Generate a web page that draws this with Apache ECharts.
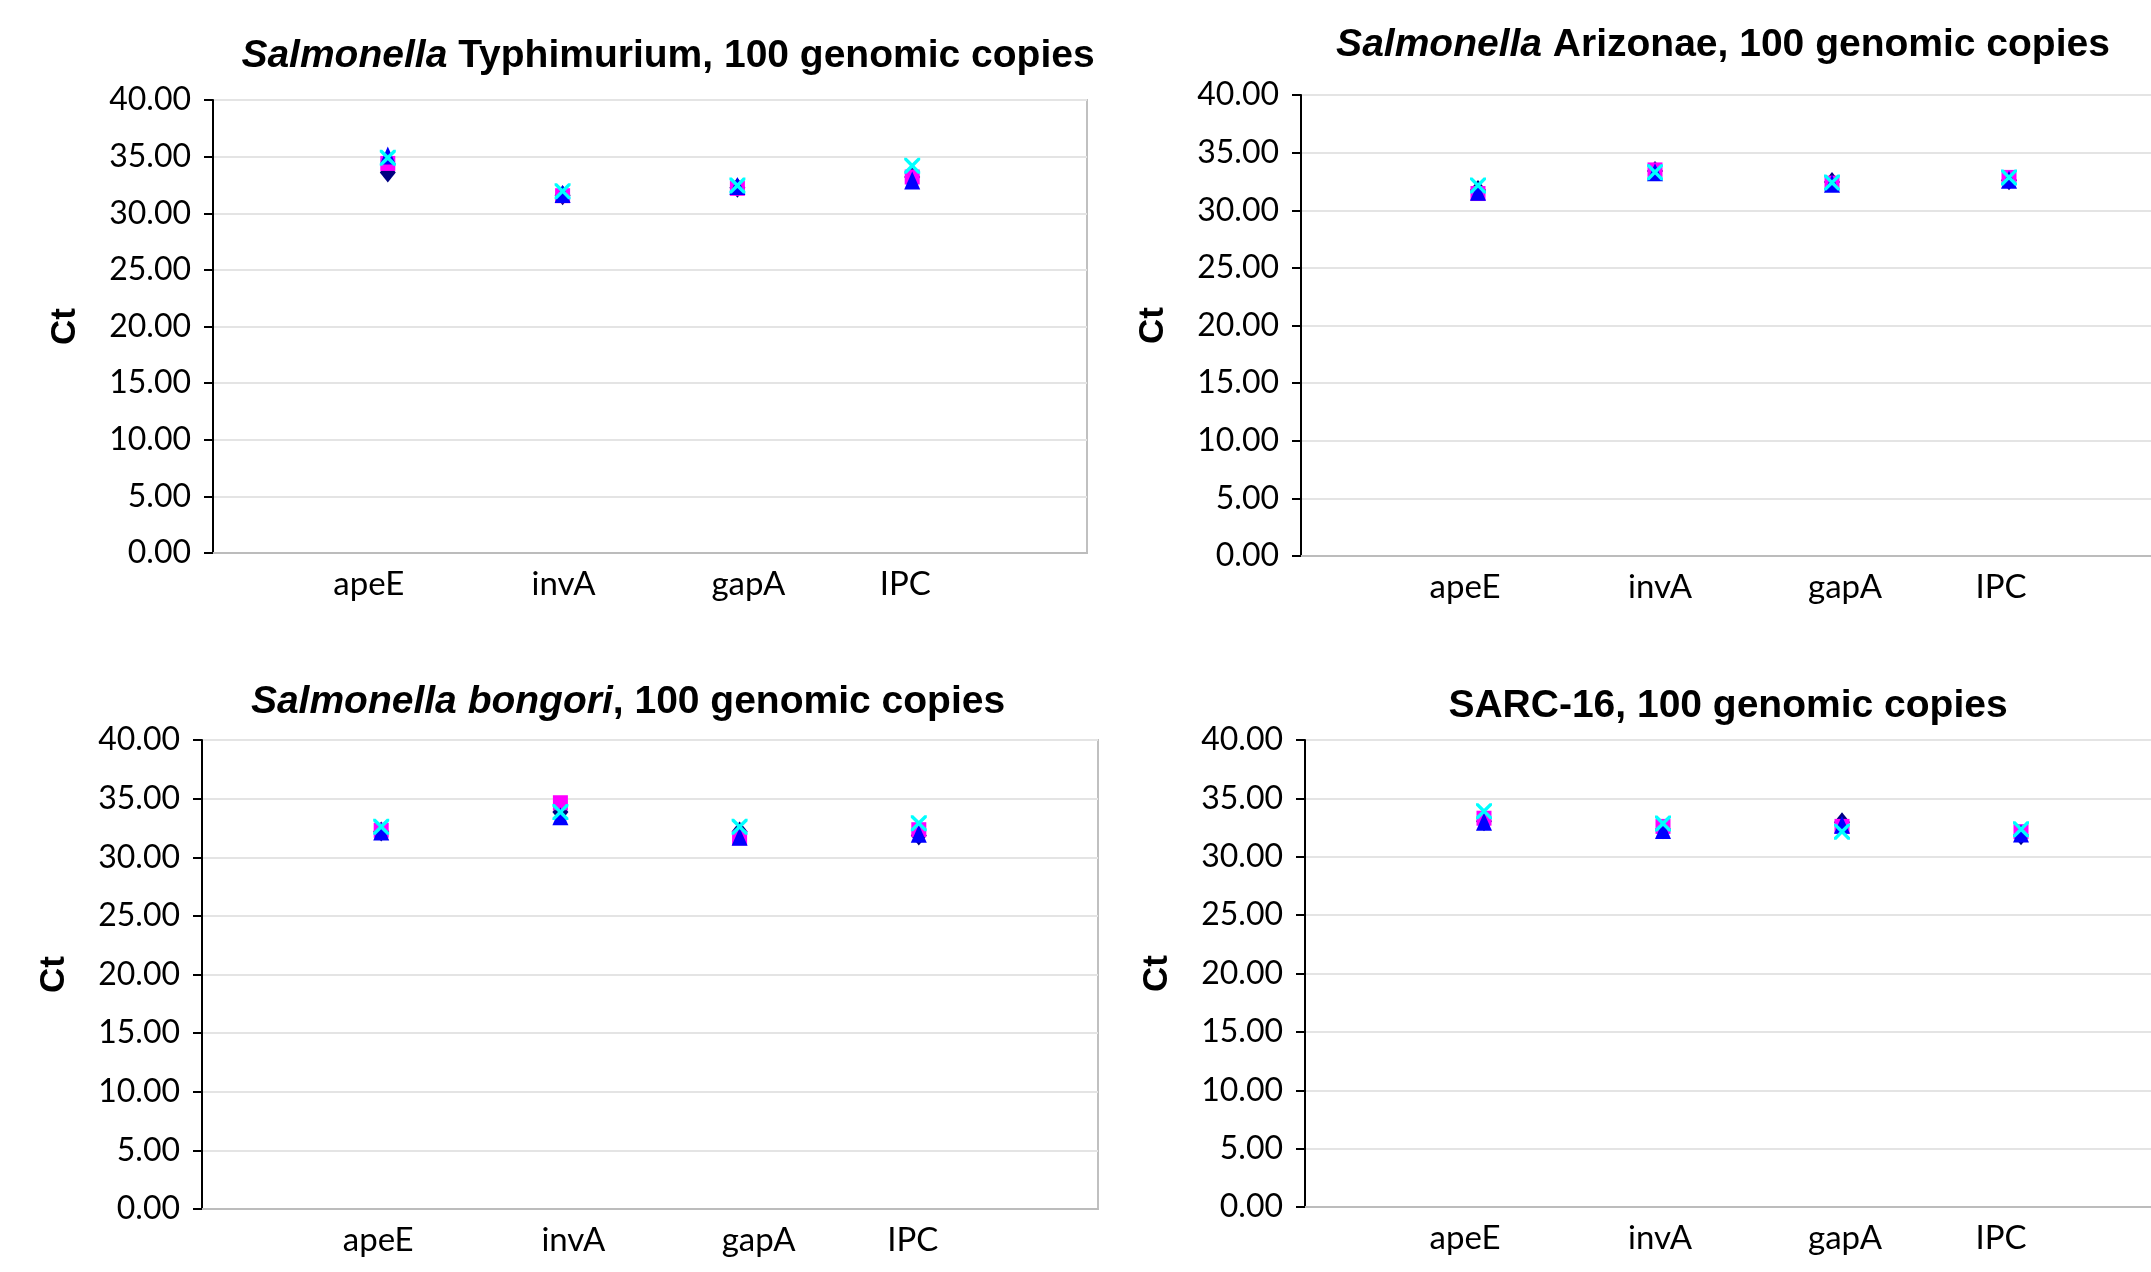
<!DOCTYPE html>
<html>
<head>
<meta charset="utf-8">
<title>Ct values, 100 genomic copies</title>
<script src="https://cdn.jsdelivr.net/npm/echarts@6/dist/echarts.min.js"></script>
<style>
  html, body { margin: 0; padding: 0; background: #fff; }
  #chart { width: 2151px; height: 1272px; }
</style>
</head>
<body>
<div id="chart"></div>
<script>
// targets on the x axis
var categories = ['apeE', 'invA', 'gapA', 'IPC']
var yTicks = [0, 5, 10, 15, 20, 25, 30, 35, 40]

// Salmonella Typhimurium
var typhiDiamond = [33.6, 31.6, 32.25, 33.2]
var typhiSquare = [34.4, 31.55, 32.2, 33.2]
var typhiTriangle = [35.1, 31.7, 32.4, 32.9]
var typhiCross = [34.9, 31.95, 32.45, 34.2]

// Salmonella Arizonae
var arizDiamond = [31.75, 33.4, 32.45, 32.6]
var arizSquare = [31.45, 33.5, 32.35, 32.85]
var arizTriangle = [31.6, 33.3, 32.3, 32.65]
var arizCross = [32.15, 33.3, 32.4, 32.85]

// Salmonella bongori
var bongDiamond = [32.2, 33.85, 32.2, 31.85]
var bongSquare = [32.3, 34.65, 31.65, 32.35]
var bongTriangle = [32.2, 33.5, 31.75, 32.0]
var bongCross = [32.6, 33.85, 32.6, 32.9]

// SARC-16
var sarcDiamond = [33.05, 32.35, 32.95, 31.85]
var sarcSquare = [33.3, 32.6, 32.6, 32.15]
var sarcTriangle = [33.0, 32.3, 32.75, 32.0]
var sarcCross = [33.9, 32.85, 32.15, 32.35]

var crossPath = 'path://M0,0 L3,0 L10,7 L17,0 L20,0 L20,3 L13,10 L20,17 L20,20 L17,20 L10,13 L3,20 L0,20 L0,17 L7,10 L0,3 Z'

var markers = [
  { symbol: 'diamond', size: [16, 20], color: '#000080' },
  { symbol: 'rect', size: 15, color: '#ff00ff' },
  { symbol: 'triangle', size: [16, 18], color: '#0000ff' },
  { symbol: crossPath, size: 16, color: '#00ffff' }
]

var panels = [
  {
    title: '{i|Salmonella} Typhimurium, 100 genomic copies',
    titleX: 663, titleY: 32,
    grid: { left: 213, top: 100, width: 874, height: 453 },
    labelShift: [-19, 1, 11, -7],
    data: [typhiDiamond, typhiSquare, typhiTriangle, typhiCross]
  },
  {
    title: '{i|Salmonella} Arizonae, 100 genomic copies',
    titleX: 1718, titleY: 21,
    grid: { left: 1301, top: 95, width: 885, height: 461 },
    labelShift: [-13, 5, 13, -8],
    data: [arizDiamond, arizSquare, arizTriangle, arizCross]
  },
  {
    title: '{i|Salmonella bongori}, 100 genomic copies',
    titleX: 623, titleY: 678,
    grid: { left: 202, top: 740, width: 896, height: 469 },
    labelShift: [-3, 13, 19, -6],
    data: [bongDiamond, bongSquare, bongTriangle, bongCross]
  },
  {
    title: 'SARC-16, 100 genomic copies',
    titleX: 1723, titleY: 682,
    grid: { left: 1305, top: 740, width: 895, height: 467 },
    labelShift: [-19, -3, 3, -20],
    data: [sarcDiamond, sarcSquare, sarcTriangle, sarcCross]
  }
]

var labelFont = { fontFamily: 'Lato', fontSize: 33, color: '#000' }

var option = {
  backgroundColor: '#fff',
  animation: false,
  title: [],
  grid: [],
  xAxis: [],
  yAxis: [],
  series: []
}

panels.forEach(function (p, idx) {
  option.title.push({
    text: p.title,
    left: p.titleX,
    top: p.titleY,
    textAlign: 'center',
    textStyle: {
      fontFamily: 'Liberation Sans',
      fontWeight: 'bold',
      fontSize: 39,
      color: '#000',
      rich: {
        i: { fontFamily: 'Liberation Sans', fontWeight: 'bold', fontStyle: 'italic', fontSize: 39, color: '#000' }
      }
    }
  })
  // the right-hand panels run past the page edge, so no clamping
  option.grid.push(Object.assign({
    show: true,
    outerBoundsMode: 'none',
    containLabel: false,
    borderColor: '#c0c0c0',
    borderWidth: 2,
    backgroundColor: 'transparent'
  }, p.grid))

  // Excel put the text labels a little off the points, nudge them with padding
  var rich = {}
  p.labelShift.forEach(function (d, i) {
    rich['s' + i] = Object.assign({
      padding: d < 0 ? [0, -2 * d, 0, 0] : [0, 0, 0, 2 * d]
    }, labelFont)
  })
  option.xAxis.push({
    type: 'value',
    gridIndex: idx,
    min: 0,
    max: 5,
    interval: 1,
    axisLine: { lineStyle: { color: '#bcbcbc', width: 2 } },
    axisTick: { show: false },
    splitLine: { show: false },
    axisLabel: Object.assign({
      margin: 15,
      rich: rich,
      formatter: function (v) {
        var c = categories[v - 1]
        return c ? '{s' + (v - 1) + '|' + c + '}' : ''
      }
    }, labelFont)
  })
  option.yAxis.push({
    type: 'value',
    gridIndex: idx,
    min: yTicks[0],
    max: yTicks[yTicks.length - 1],
    interval: 5,
    name: 'Ct',
    nameLocation: 'middle',
    nameRotate: 90,
    nameGap: 130,
    nameTextStyle: { fontFamily: 'Liberation Sans', fontWeight: 'bold', fontSize: 35, color: '#000' },
    axisLine: { show: true, lineStyle: { color: '#000', width: 2 } },
    axisTick: { show: true, length: 9, lineStyle: { color: '#000', width: 2 } },
    splitLine: { lineStyle: { color: '#e4e4e4', width: 2 } },
    axisLabel: {
      margin: 22,
      fontFamily: 'Lato',
      fontSize: 32,
      color: '#000',
      formatter: function (v) { return v.toFixed(2) }
    }
  })
  p.data.forEach(function (vals, s) {
    var m = markers[s]
    option.series.push({
      type: 'scatter',
      xAxisIndex: idx,
      yAxisIndex: idx,
      symbol: m.symbol,
      symbolSize: m.size,
      itemStyle: { color: m.color, opacity: 1 },
      data: vals.map(function (v, i) { return [i + 1, v] })
    })
  })
})

var myChart = echarts.init(document.getElementById('chart'))
myChart.setOption(option)
</script>
</body>
</html>
